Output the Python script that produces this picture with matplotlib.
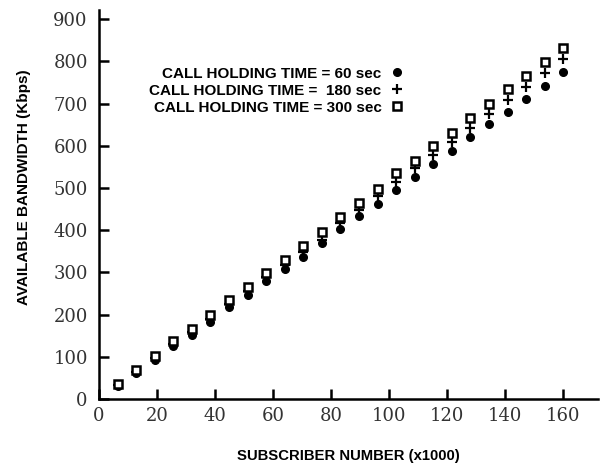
import matplotlib
matplotlib.use("Agg")
import matplotlib.pyplot as plt

# subscriber number (x1000)
subscribers = [6.4, 12.8, 19.2, 25.6, 32.0, 38.4, 44.8, 51.2, 57.6, 64.0,
               70.4, 76.8, 83.2, 89.6, 96.0, 102.4, 108.8, 115.2, 121.6, 128.0,
               134.4, 140.8, 147.2, 153.6, 160.0]

# available bandwidth (Kbps) per call holding time
bw_60 = [31, 61, 92, 125, 152, 182, 218, 246, 280, 308, 337, 370, 403, 433,
         462, 495, 526, 556, 588, 620, 651, 680, 710, 741, 775]
bw_180 = [33, 64, 96, 130, 158, 190, 226, 255, 288, 318, 348, 376, 417, 447,
          480, 514, 547, 578, 609, 642, 675, 708, 739, 772, 806]
bw_300 = [35, 68, 102, 137, 166, 199, 234, 265, 298, 329, 362, 396, 431, 464,
          497, 535, 564, 600, 630, 665, 699, 734, 765, 798, 832]

labels = ["CALL HOLDING TIME = 60 sec",
          "CALL HOLDING TIME =  180 sec",
          "CALL HOLDING TIME = 300 sec"]

fig = plt.figure(figsize=(6.05, 4.65), dpi=100)
ax = fig.add_axes([0.1636, 0.142, 0.825, 0.836])

ax.plot(subscribers, bw_60, linestyle="none", marker="o", markersize=5.5,
        color="black", label=labels[0])
ax.plot(subscribers, bw_180, linestyle="none", marker="+", markersize=7.5,
        markeredgewidth=1.6, color="black", label=labels[1])
ax.plot(subscribers, bw_300, linestyle="none", marker="s", markersize=5.8,
        markerfacecolor="white", markeredgecolor="black", markeredgewidth=1.8,
        label=labels[2])

ax.set_xlim(0, 172)
ax.set_ylim(0, 921)
ax.set_xticks(range(0, 161, 20))
ax.set_yticks(range(0, 901, 100))

# only left and bottom axis lines
ax.spines["top"].set_visible(False)
ax.spines["right"].set_visible(False)
ax.spines["left"].set_linewidth(1.8)
ax.spines["bottom"].set_linewidth(1.8)
ax.tick_params(direction="in", length=7, width=1.8)
ax.tick_params(axis="y", pad=8)
ax.tick_params(axis="x", pad=6)

for lab in ax.get_xticklabels() + ax.get_yticklabels():
    lab.set_family("DejaVu Serif")
    lab.set_fontsize(13)
    lab.set_color("#333333")

ax.set_xlabel("SUBSCRIBER NUMBER (x1000)", fontsize=10.7, fontweight="bold",
              family="Liberation Sans", labelpad=17)
ax.set_ylabel("AVAILABLE BANDWIDTH (Kbps)", fontsize=11, fontweight="bold",
              family="Liberation Sans")
ax.yaxis.set_label_coords(-0.137, 0.545)

leg = ax.legend(loc="center right", bbox_to_anchor=(0.612, 0.793), frameon=False,
                markerfirst=False, handlelength=1.0, handletextpad=0.5,
                labelspacing=0.2, borderpad=0, borderaxespad=0,
                prop={"family": "Liberation Sans", "weight": "bold", "size": 11})

fig.savefig("out.png", dpi=100)
